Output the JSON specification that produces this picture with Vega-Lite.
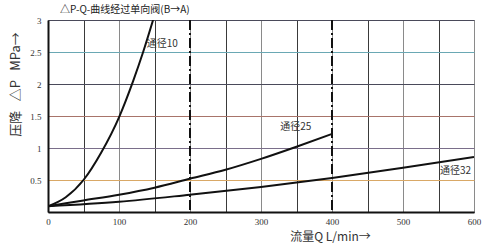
{
  "$schema": "https://vega.github.io/schema/vega-lite/v6.json",
  "width": 426,
  "height": 192,
  "autosize": "none",
  "padding": {"left": 48, "top": 20, "right": 10, "bottom": 36},
  "background": "white",
  "title": {
    "text": "△P-Q-曲线经过单向阀(B→A)",
    "anchor": "start",
    "frame": "group",
    "dx": 12,
    "offset": 1,
    "font": "Noto Sans CJK SC",
    "fontSize": 10,
    "fontWeight": "normal",
    "color": "#222"
  },
  "config": {
    "view": {"stroke": "#888", "strokeWidth": 1},
    "axis": {"labelFont": "Liberation Serif", "labelFontSize": 10, "labelColor": "#333", "ticks": false}
  },
  "datasets": {
    "curves": [
      {"series": "10", "Q": 0, "P": 0.09},
      {"series": "10", "Q": 25, "P": 0.23},
      {"series": "10", "Q": 50, "P": 0.5},
      {"series": "10", "Q": 75, "P": 0.93},
      {"series": "10", "Q": 100, "P": 1.48},
      {"series": "10", "Q": 120, "P": 2.05},
      {"series": "10", "Q": 134, "P": 2.5},
      {"series": "10", "Q": 148, "P": 3.0},
      {"series": "25", "Q": 0, "P": 0.09},
      {"series": "25", "Q": 50, "P": 0.18},
      {"series": "25", "Q": 100, "P": 0.27},
      {"series": "25", "Q": 150, "P": 0.38},
      {"series": "25", "Q": 200, "P": 0.52},
      {"series": "25", "Q": 250, "P": 0.66},
      {"series": "25", "Q": 300, "P": 0.83},
      {"series": "25", "Q": 350, "P": 1.02},
      {"series": "25", "Q": 400, "P": 1.22},
      {"series": "32", "Q": 0, "P": 0.09},
      {"series": "32", "Q": 100, "P": 0.16},
      {"series": "32", "Q": 200, "P": 0.27},
      {"series": "32", "Q": 300, "P": 0.39},
      {"series": "32", "Q": 400, "P": 0.53},
      {"series": "32", "Q": 500, "P": 0.69},
      {"series": "32", "Q": 600, "P": 0.86}
    ],
    "labels": [
      {"text": "通径10", "Q": 139, "P": 2.62},
      {"text": "通径25", "Q": 327, "P": 1.33},
      {"text": "通径32", "Q": 552, "P": 0.64}
    ],
    "dashes": [
      {"Q": 200},
      {"Q": 400}
    ]
  },
  "encoding": {
    "x": {
      "field": "Q", "type": "quantitative",
      "scale": {"domain": [0, 600], "nice": false},
      "axis": {
        "values": [0, 50, 100, 150, 200, 250, 300, 350, 400, 450, 500, 550, 600],
        "labelExpr": "datum.value % 100 === 0 ? datum.label : ''",
        "labelPadding": 5,
        "labelFontSize": 9,
        "labelFlush": false,
        "labelOverlap": false,
        "encode": {"labels": {"update": {"dx": {"signal": "datum.value === 0 ? -9 : 0"}}}},
        "grid": true,
        "gridColor": {"condition": {"test": "datum.value % 100 === 0", "value": "#8a8a8a"}, "value": "#3a3a3a"},
        "gridWidth": 1,
        "gridOpacity": 1,
        "domainColor": "#111",
        "domainWidth": 2,
        "title": "流量Q L/min→",
        "titleFont": "Noto Sans CJK SC",
        "titleFontSize": 12,
        "titleFontWeight": "normal",
        "titleColor": "#333",
        "titleX": 282,
        "titleY": 24,
        "titleAlign": "center",
        "titleBaseline": "middle"
      }
    },
    "y": {
      "field": "P", "type": "quantitative",
      "scale": {"domain": [0, 3], "nice": false},
      "axis": {
        "values": [0, 0.5, 1, 1.5, 2, 2.5, 3],
        "labelExpr": "datum.value === 0 ? '' : format(datum.value, '')",
        "labelPadding": 7,
        "labelFontSize": 9,
        "labelFlush": false,
        "labelOverlap": false,
        "grid": true,
        "gridColor": {"condition": [
          {"test": "datum.value === 2.5", "value": "#6aa8b4"},
          {"test": "datum.value === 1.5", "value": "#a8746a"},
          {"test": "datum.value === 1", "value": "#7a6e8a"},
          {"test": "datum.value === 0.5", "value": "#d9a866"}
        ], "value": "#4a4a5a"},
        "gridWidth": 1,
        "gridOpacity": 1,
        "domainColor": "#111",
        "domainWidth": 2,
        "title": "压降\u2002 △P\u2002 MPa→",
        "titleFont": "Noto Sans CJK SC",
        "titleFontSize": 13,
        "titleFontWeight": "normal",
        "titleColor": "#333",
        "titleX": -33,
        "titleY": 64,
        "titleAlign": "center",
        "titleBaseline": "middle"
      }
    }
  },
  "layer": [
    {
      "data": {"name": "curves"},
      "mark": {"type": "line", "color": "#111", "strokeWidth": 2, "interpolate": "monotone", "clip": true},
      "encoding": {
        "detail": {"field": "series"}
      }
    },
    {
      "data": {"name": "dashes"},
      "mark": {"type": "rule", "color": "#111", "strokeWidth": 2, "strokeDash": [10, 3, 2, 3]},
      "encoding": {
        "y": null
      }
    },
    {
      "data": {"name": "labels"},
      "mark": {"type": "text", "align": "left", "baseline": "middle", "font": "Noto Sans CJK SC", "fontSize": 10, "color": "#333"},
      "encoding": {
        "text": {"field": "text"}
      }
    }
  ]
}
